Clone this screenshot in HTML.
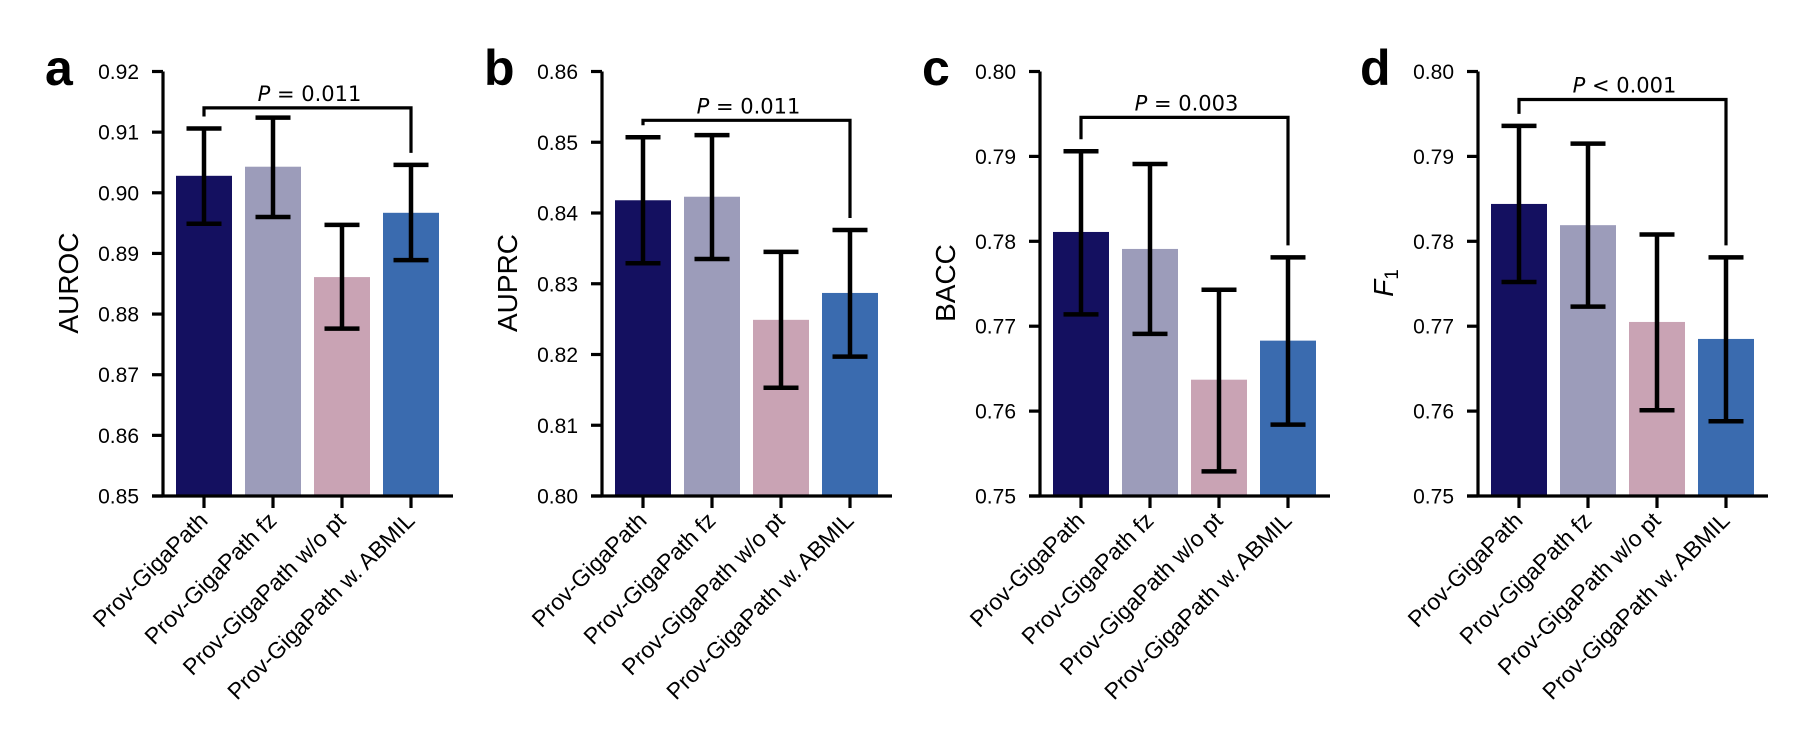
<!DOCTYPE html>
<html><head><meta charset="utf-8">
<style>
html,body{margin:0;padding:0;background:#fff;}
svg{display:block;}
text{font-family:"Liberation Sans",Arial,sans-serif;fill:#000;}
</style></head>
<body>
<svg id="fig" width="1806" height="740" viewBox="0 0 1806 740"></svg>
<script>
const categories = ["Prov-GigaPath","Prov-GigaPath fz","Prov-GigaPath w/o pt","Prov-GigaPath w. ABMIL"];
const colors = ["#141060","#9c9cba","#c9a3b4","#3a6baf"];
const panelLetters = ["a","b","c","d"];
const yTitles = ["AUROC","AUPRC","BACC","F1"];
const yMins = [0.85,0.80,0.75,0.75];
const yMaxs = [0.92,0.86,0.80,0.80];
const yTickLabels = [
  ["0.85","0.86","0.87","0.88","0.89","0.90","0.91","0.92"],
  ["0.80","0.81","0.82","0.83","0.84","0.85","0.86"],
  ["0.75","0.76","0.77","0.78","0.79","0.80"],
  ["0.75","0.76","0.77","0.78","0.79","0.80"]
];
const aurocValues = [0.9028,0.9043,0.8861,0.8967];
const aurocLow    = [0.8949,0.8960,0.8776,0.8889];
const aurocHigh   = [0.9106,0.9124,0.8947,0.9046];
const auprcValues = [0.8418,0.8423,0.8249,0.8287];
const auprcLow    = [0.8329,0.8335,0.8153,0.8197];
const auprcHigh   = [0.8507,0.8510,0.8345,0.8376];
const baccValues  = [0.7811,0.7791,0.7637,0.7683];
const baccLow     = [0.7714,0.7691,0.7529,0.7584];
const baccHigh    = [0.7906,0.7891,0.7743,0.7781];
const f1Values    = [0.7844,0.7819,0.7705,0.7685];
const f1Low       = [0.7752,0.7723,0.7601,0.7588];
const f1High      = [0.7936,0.7915,0.7808,0.7781];
const pLabels = ["= 0.011","= 0.011","= 0.003","< 0.001"];
const bracketValues = [0.9140,0.8531,0.7946,0.7967];

const values=[aurocValues,auprcValues,baccValues,f1Values];
const lows=[aurocLow,auprcLow,baccLow,f1Low];
const highs=[aurocHigh,auprcHigh,baccHigh,f1High];

const NS="http://www.w3.org/2000/svg";
const svg=document.getElementById('fig');
function mk(tag,attrs,parent){const e=document.createElementNS(NS,tag);for(const k in attrs)e.setAttribute(k,attrs[k]);(parent||svg).appendChild(e);return e;}

const axisXs=[163,602,1040,1478];
const yTop=71.5,yBot=496;
for(let p=0;p<4;p++){
  const g=mk('g',{});
  
  
  const ax=axisXs[p];
  const y=v=>yBot-(v-yMins[p])/(yMaxs[p]-yMins[p])*(yBot-yTop);
  const xc=i=>ax+41+i*69;
  const L=mk('text',{x:ax-118,y:85,'font-size':50,'font-weight':'bold',fill:'#231f20'},g);
  L.textContent=panelLetters[p];
  
  
  for(let i=0;i<4;i++){
    const r=mk('rect',{x:xc(i)-28,y:y(values[p][i]),width:56,height:yBot-y(values[p][i]),fill:colors[i]},g);
    
    
  }
  for(let i=0;i<4;i++){
    const eg=mk('g',{stroke:'#000','stroke-width':4.5,fill:'none'},g);
    
    
    const yl=y(lows[p][i]),yh=y(highs[p][i]);
    mk('line',{x1:xc(i),x2:xc(i),y1:yh,y2:yl},eg);
    mk('line',{x1:xc(i)-17.5,x2:xc(i)+17.5,y1:yh,y2:yh},eg);
    mk('line',{x1:xc(i)-17.5,x2:xc(i)+17.5,y1:yl,y2:yl},eg);
  }
  const axg=mk('g',{stroke:'#000','stroke-width':3.2,fill:'none'},g);
  
  
  mk('line',{x1:ax,x2:ax,y1:yTop,y2:yBot+1.5},axg);
  mk('line',{x1:ax-11,x2:ax+290,y1:yBot,y2:yBot},axg);
  const labs=yTickLabels[p];
  for(let k=0;k<labs.length;k++){
    const v=parseFloat(labs[k]);const ty=y(v);
    mk('line',{x1:ax-11,x2:ax,y1:ty,y2:ty},axg);
    const t=mk('text',{x:ax-24,y:ty+7.5,'font-size':21,'text-anchor':'end'},g);
    t.textContent=labs[k];
    
    
  }
  for(let i=0;i<4;i++){
    mk('line',{x1:xc(i),x2:xc(i),y1:yBot,y2:yBot+12},axg);
    const t=mk('text',{x:0,y:0,'font-size':23,'text-anchor':'end',transform:'translate('+(xc(i)+5)+',522) rotate(-45)'},g);
    t.textContent=categories[i];
    
    
  }
  const yt=mk('text',{x:0,y:0,'font-size':28,'text-anchor':'middle',transform:'translate('+(ax-85)+',283) rotate(-90)'},g);
  if(p===3){
    const a=mk('tspan',{'font-style':'italic'},yt);a.textContent='F';
    const b=mk('tspan',{'font-size':19,dy:5},yt);b.textContent='1';
  } else yt.textContent=yTitles[p];
  
  
  const by=y(bracketValues[p]);
  const bg=mk('path',{d:'M'+xc(0)+','+(y(highs[p][0])-12)+' V'+by+' H'+xc(3)+' V'+(y(highs[p][3])-12),stroke:'#000','stroke-width':3.2,fill:'none'},g);
  
  
  const pt=mk('text',{x:(xc(0)+xc(3))/2+2,y:by-7,'font-size':21,'text-anchor':'middle',style:'font-family:"DejaVu Sans",sans-serif'},g);
  const ps=mk('tspan',{'font-style':'italic'},pt);ps.textContent='P';
  const pr=mk('tspan',{},pt);pr.textContent=' '+pLabels[p];
  
  
}
</script>
</body></html>
